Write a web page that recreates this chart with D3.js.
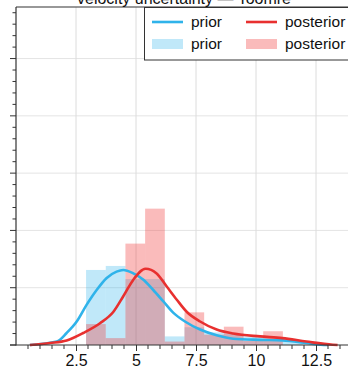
<!DOCTYPE html>
<html><head><meta charset="utf-8">
<script src="https://cdn.jsdelivr.net/npm/d3@7"></script>
<style>html,body{margin:0;padding:0;background:#fff;overflow:hidden}svg{display:block}</style>
</head><body>
<svg id="c" width="348" height="369"></svg>
<script>
const titleText = "velocity uncertainty — Toomre";
const binEdges = [2.92,3.74,4.56,5.38,6.20,7.02,7.84,8.66,9.48,10.30,11.12,11.94];
const priorHist = [0.131,0.138,0.115,0.115,0.015,0.031,0.022,0.020,0.015,0.010,0.007];
const posteriorHist = [0.0365,0.012,0.177,0.238,0.006,0.057,0.018,0.032,0.007,0.024,0.0];
const priorKdeX = [0.58,1.7,2.11,2.53,2.94,3.36,3.78,4.19,4.47,4.89,5.31,5.72,6.14,6.56,7.04,7.67,8.36,9.05,10.17,11.1,12.1,12.7,13.0];
const priorKdeY = [0,0.006,0.021,0.041,0.07,0.096,0.117,0.128,0.131,0.125,0.114,0.096,0.076,0.056,0.041,0.027,0.017,0.011,0.009,0.008,0.0035,0.0005,0];
const postKdeX = [0.58,1.42,2.11,2.8,3.5,4.06,4.47,4.89,5.4,5.86,6.28,6.7,7.11,7.67,8.36,9.05,10.17,11.1,12.1,13.2,13.4];
const postKdeY = [0,0.0035,0.008,0.021,0.038,0.058,0.085,0.114,0.133,0.125,0.102,0.079,0.058,0.041,0.027,0.020,0.015,0.012,0.006,0.0005,0];
const xTicks = [2.5,5,7.5,10,12.5];
const xTickLabels = ["2.5","5","7.5","10","12.5"];
const yTicks = [0,0.1,0.2,0.3,0.4,0.5];
const legendLabels = ["prior","posterior"];

const blue = "#2fb3ea", red = "#e8302f";
const svg = d3.select("#c");
const x = d3.scaleLinear().domain([0,14]).range([16,352]);
const y = d3.scaleLinear().domain([0,0.59]).range([345,7]);
const font = "'Liberation Sans', Arial, Helvetica, sans-serif";

// grid
svg.append("g").selectAll("line").data(yTicks.slice(1)).join("line")
  .attr("x1",x(0)).attr("x2",352).attr("y1",d=>y(d)).attr("y2",d=>y(d))
  .attr("stroke","#e4e4e4").attr("stroke-width",1);
svg.append("g").selectAll("line").data(xTicks).join("line")
  .attr("y1",y(0)).attr("y2",y(0.59)).attr("x1",d=>x(d)).attr("x2",d=>x(d))
  .attr("stroke","#dcdcdc").attr("stroke-width",1);

// histograms
const bins = (vals)=>vals.map((v,i)=>({x0:binEdges[i],x1:binEdges[i+1],v}));
svg.append("g").selectAll("rect").data(bins(priorHist)).join("rect")
  .attr("x",d=>x(d.x0)).attr("width",d=>x(d.x1)-x(d.x0))
  .attr("y",d=>y(d.v)).attr("height",d=>y(0)-y(d.v))
  .attr("fill",blue).attr("fill-opacity",0.3);
svg.append("g").selectAll("rect").data(bins(posteriorHist)).join("rect")
  .attr("x",d=>x(d.x0)).attr("width",d=>x(d.x1)-x(d.x0))
  .attr("y",d=>y(d.v)).attr("height",d=>y(0)-y(d.v))
  .attr("fill","#f03c3c").attr("fill-opacity",0.35);

// kde lines
const line = d3.line().x(d=>x(d[0])).y(d=>y(d[1])).curve(d3.curveMonotoneX);
svg.append("path").datum(priorKdeX.map((v,i)=>[v,priorKdeY[i]]))
  .attr("d",line).attr("fill","none").attr("stroke",blue).attr("stroke-width",2.6);
svg.append("path").datum(postKdeX.map((v,i)=>[v,postKdeY[i]]))
  .attr("d",line).attr("fill","none").attr("stroke",red).attr("stroke-width",2.6);

// axes
const xAxis = d3.axisBottom(x).tickValues(xTicks).tickFormat((d,i)=>xTickLabels[i]).tickSize(6).tickPadding(4);
const gx = svg.append("g").attr("transform",`translate(0,${y(0)})`).call(xAxis);
gx.select(".domain").remove();
gx.selectAll("line").attr("stroke","#333");
gx.selectAll("text").attr("font-family",font).attr("font-size",16).attr("fill","#111");
const xMinor = d3.range(1,28).map(i=>i*0.5).filter(v=>xTicks.indexOf(v)<0);
svg.append("g").selectAll("line").data(xMinor).join("line")
  .attr("x1",d=>x(d)).attr("x2",d=>x(d)).attr("y1",y(0)).attr("y2",y(0)+4)
  .attr("stroke","#333");
const yMinor = d3.range(1,30).map(i=>i*0.02).filter(v=>Math.abs(v*10-Math.round(v*10))>1e-6);
svg.append("g").selectAll("line").data(yTicks).join("line")
  .attr("x1",10).attr("x2",x(0)).attr("y1",d=>y(d)).attr("y2",d=>y(d)).attr("stroke","#333");
svg.append("g").selectAll("line").data(yMinor).join("line")
  .attr("x1",12.5).attr("x2",x(0)).attr("y1",d=>y(d)).attr("y2",d=>y(d)).attr("stroke","#333");
// frame
svg.append("line").attr("x1",10).attr("x2",352).attr("y1",y(0)).attr("y2",y(0)).attr("stroke","#333").attr("stroke-width",1.2);
svg.append("line").attr("x1",x(0)).attr("x2",x(0)).attr("y1",y(0)+0.5).attr("y2",y(0.59)).attr("stroke","#333").attr("stroke-width",1.2);
svg.append("line").attr("x1",x(0)).attr("x2",352).attr("y1",y(0.59)).attr("y2",y(0.59)).attr("stroke","#333").attr("stroke-width",1.2);

// title (partly cut off at the top, as in the reference)
svg.append("text").attr("x",184).attr("y",4).attr("text-anchor","middle")
  .attr("font-family",font).attr("font-size",16).attr("fill","#111").text(titleText);

// legend
const lg = svg.append("g");
lg.append("rect").attr("x",144.5).attr("y",7.5).attr("width",220).attr("height",52.5)
  .attr("fill","#fff").attr("stroke","#333").attr("stroke-width",1);
const cols = [152,246];
legendLabels.forEach((lab,i)=>{
  const c = i===0?blue:red;
  lg.append("line").attr("x1",cols[i]).attr("x2",cols[i]+31).attr("y1",22).attr("y2",22)
    .attr("stroke",c).attr("stroke-width",2.6);
  lg.append("text").attr("x",cols[i]+39).attr("y",27).attr("font-family",font)
    .attr("font-size",15.5).attr("fill","#111").text(lab);
  lg.append("rect").attr("x",cols[i]).attr("y",39).attr("width",31).attr("height",10)
    .attr("fill",i===0?blue:"#f03c3c").attr("fill-opacity",i===0?0.3:0.35);
  lg.append("text").attr("x",cols[i]+39).attr("y",49).attr("font-family",font)
    .attr("font-size",15.5).attr("fill","#111").text(lab);
});
</script>
</body></html>
